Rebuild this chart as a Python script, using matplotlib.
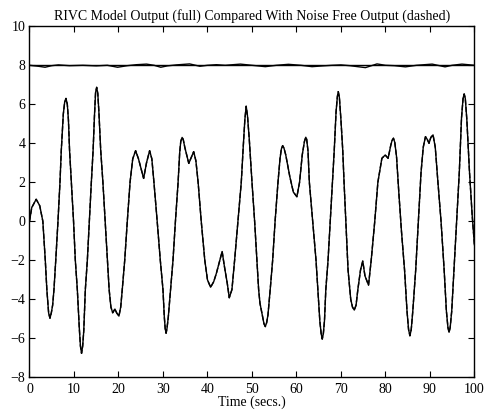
""" RIVC model output vs noise free output, redrawn from the figure. """

import numpy as np
import matplotlib
matplotlib.use('Agg')
import matplotlib.pyplot as plt

# model output (full line)
t_out = [0, 0.5, 1.5, 2.3, 3.0, 3.55, 3.9, 4.3, 4.6, 4.9, 5.2, 5.5, 5.9, 6.4,
         6.85, 7.15, 7.6, 7.9, 8.2, 8.5, 8.75, 9.0, 9.4, 9.9, 10.3, 10.75,
         11.2, 11.45, 11.7, 11.95, 12.2, 12.55, 13.0, 13.45, 13.9, 14.3, 14.6,
         14.85, 15.1, 15.35, 15.6, 16.0, 16.5, 17.0, 17.5, 17.9, 18.3, 18.7,
         19.2, 19.6, 20.1, 20.5, 20.85, 21.4, 21.98, 22.6, 23.2, 23.85, 24.5,
         25.65, 26.3, 27.0, 27.5, 27.97, 28.7, 29.4, 30.0, 30.3, 30.5, 30.7,
         30.9, 31.2, 31.7, 32.25, 32.8, 33.4, 33.75, 34.0, 34.3, 34.55, 34.9,
         35.8, 36.9, 37.4, 37.9, 38.6, 39.4, 40.0, 40.7, 41.4, 42.0, 43.3,
         43.8, 44.45, 44.9, 45.5, 46.1, 46.85, 47.6, 48.0, 48.4, 48.7, 49.0,
         49.4, 50.0, 50.6, 51.1, 51.5, 51.8, 52.4, 52.7, 53.0, 53.3, 53.6,
         54.1, 54.65, 55.2, 55.85, 56.3, 56.6, 56.9, 57.2, 57.6, 58.5, 59.3,
         60.1, 60.7, 61.3, 61.8, 62.1, 62.3, 62.6, 62.9, 63.65, 64.4, 64.8,
         65.25, 65.55, 65.8, 66.05, 66.3, 66.6, 67.1, 67.6, 68.1, 68.5,
         68.9, 69.2, 69.4, 69.65, 70.0, 70.4, 70.7, 71.1, 71.6, 72.2, 72.6,
         73.0, 73.4, 73.8, 74.4, 74.9, 75.4, 76.2, 76.8, 77.6, 78.3, 79.2,
         79.95, 80.6, 81.2, 81.5, 81.8, 82.1, 82.5, 83.0, 83.6, 84.3, 84.85,
         85.2, 85.5, 85.8, 86.15, 86.8, 87.4, 88.0, 88.5, 89.0, 89.4, 89.8,
         90.2, 90.7, 91.2, 91.8, 92.5, 93.2, 93.7, 94.05, 94.3, 94.55, 94.9,
         95.4, 96.0, 96.6, 97.1, 97.45, 97.7, 97.95, 98.3, 98.9, 99.5, 100.0]
y_out = [0, 0.7, 1.13, 0.8, 0.0, -2.0, -3.5, -4.7, -4.97, -4.7, -4.3, -3.5,
         -2.0, 0.0, 2.0, 3.66, 5.5, 6.1, 6.3, 6.0, 5.2, 3.66, 2.0, 0.0, -2.0,
         -3.5, -5.5, -6.4, -6.77, -6.4, -5.6, -3.5, -2.0, 0.0, 2.0, 3.66, 5.4,
         6.6, 6.87, 6.55, 5.6, 3.66, 2.0, 0.0, -2.0, -3.5, -4.4, -4.69,
         -4.5, -4.7, -4.86, -4.4, -3.5, -2.0, 0.0, 2.0, 3.2, 3.62, 3.2,
         2.2, 3.0, 3.62, 3.2, 2.0, 0.0, -2.0, -3.5, -4.9, -5.5, -5.74,
         -5.5, -4.9, -3.5, -2.0, 0.0, 2.0, 3.5, 4.1, 4.3, 4.2, 3.8,
         2.97, 3.57, 3.1, 2.0, 0.0, -2.0, -3.0, -3.38, -3.1, -2.67, -1.55,
         -2.3, -3.18, -3.92, -3.5, -2.0, 0.0, 2.0, 3.66, 5.2, 5.9, 5.4,
         4.2, 2.03, 0.0, -2.0, -3.5, -4.2, -4.9, -5.25, -5.4, -5.2, -4.8,
         -3.5, -2.0, 0.0, 2.0, 3.2, 3.7, 3.88, 3.75, 3.4, 2.3, 1.5,
         1.26, 2.0, 3.4, 4.1, 4.31, 4.2, 3.6, 2.0, 0.0, -2.0, -3.5,
         -5.1, -5.75, -6.04, -5.75, -5.1, -3.5, -2.0, 0.0, 2.0, 3.66,
         5.6, 6.4, 6.65, 6.35, 5.2, 3.66, 2.0, 0.0, -2.5, -4.0, -4.4,
         -4.55, -4.3, -3.5, -2.5, -2.04, -2.8, -3.27, -2.0, 0.0, 2.0, 3.23,
         3.4, 3.23, 3.9, 4.15, 4.26, 4.05, 3.3, 1.5, -0.5, -2.5, -4.6,
         -5.55, -5.87, -5.55, -4.6, -2.5, 0.0, 2.5, 3.8, 4.34, 4.2, 4.0,
         4.3, 4.43, 3.8, 2.0, 0.0, -2.5, -4.6, -5.45, -5.69, -5.45, -4.6,
         -2.5, 0.0, 2.5, 5.3, 6.3, 6.53, 6.3, 5.2, 2.5, 0.3, -1.2]

# error between the two, drawn offset by 8
t_err = [0, 2, 3.5, 5, 6.5, 9, 12, 15, 17.5, 19.8, 22, 24, 26.3, 28, 29.5, 31,
         33, 36, 38.3, 40, 42, 44, 47.4, 50, 53, 55.5, 58.2, 61, 63.5, 66, 68,
         70, 72, 75.5, 78.1, 80, 82, 84.5, 87, 90.5, 93.4, 95, 97.2, 100]
e_err = [0, -0.05, -0.1, -0.02, 0.02, -0.02, 0.0, -0.03, 0.0, -0.1, -0.02,
         0.03, 0.06, 0.0, -0.1, -0.03, 0.02, 0.07, -0.05, 0.0, 0.03, 0.0,
         0.06, 0.0, -0.07, 0.0, 0.05, 0.0, -0.07, -0.03, 0.0, 0.02, -0.02,
         -0.12, 0.07, 0.0, -0.02, -0.08, 0.0, 0.06, -0.08, 0.0, 0.06, 0.0]
offset = 8

plt.rcParams['font.family'] = ['Liberation Serif', 'DejaVu Serif']

fig = plt.figure(figsize=(4.9, 4.12), dpi=100)
ax = fig.add_axes([0.0602, 0.0842, 0.908, 0.852])

ax.plot(t_out, y_out, color='k', lw=1.0)
ax.plot(t_out, y_out, color='k', lw=1.0, ls='--')   # noise free, sits on top
ax.plot([0, 100], [offset, offset], color='k', lw=1.0)
ax.plot(t_err, np.array(e_err) + offset, color='k', lw=1.0)

ax.set_xlim(0, 100)
ax.set_ylim(-8, 10)
ax.set_xticks(np.arange(0, 101, 10))
ax.set_yticks(np.arange(-8, 11, 2))
ax.tick_params(direction='in', top=True, right=True, length=4, width=0.8,
               labelsize=10)
ax.tick_params(axis='y', pad=3)
ax.tick_params(axis='x', pad=4)
for s in ax.spines.values():
    s.set_linewidth(1.0)

ax.set_title('RIVC Model Output (full) Compared With Noise Free Output (dashed)',
             fontsize=10, pad=5)
ax.set_xlabel('Time (secs.)', fontsize=10, labelpad=0)

fig.savefig('out.png', dpi=100)
